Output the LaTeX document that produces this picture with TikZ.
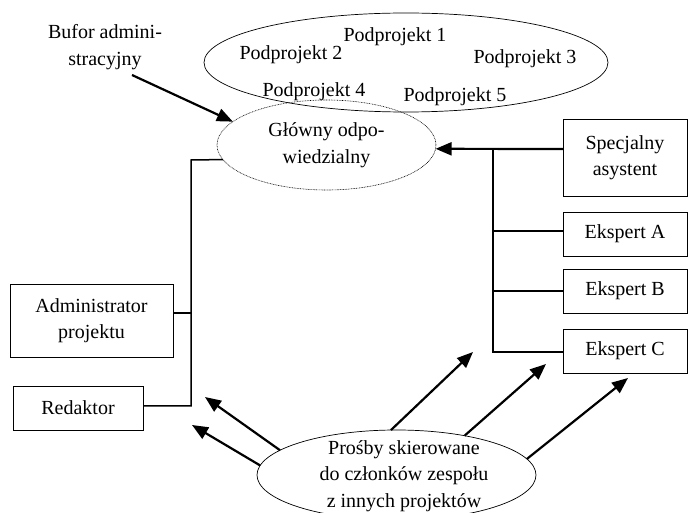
\documentclass[tikz,border=0pt]{standalone}
\usepackage{fontspec}
\setmainfont{Liberation Serif}
\usetikzlibrary{arrows.meta,shapes.geometric}

\begin{document}
\begin{tikzpicture}[x=1pt,y=-1pt,
  font=\fontsize{20}{26.5}\selectfont,
  every node/.style={inner sep=0pt,outer sep=0pt},
  txt/.style={align=center},
  box/.style={draw,line width=0.8pt,rectangle,align=center},
  oval/.style={draw,line width=0.7pt,ellipse},
  dotoval/.style={draw,line width=0.6pt,ellipse,dash pattern=on 0.8pt off 0.8pt,align=center},
  tree/.style={line width=1.5pt},
  bigarrow/.style={line width=2.2pt,-{Triangle[length=16pt,width=13pt]}}]

  \useasboundingbox (0,0) rectangle (689,513);

  % project cloud with its sub-projects
  \node[oval,minimum width=404pt,minimum height=99pt] (proj) at (406,62.5) {};
  \node[txt] (p1) at (395,37) {Podprojekt 1};
  \node[txt] (p2) at (291,55) {Podprojekt 2};
  \node[txt] (p3) at (525,59) {Podprojekt 3};
  \node[txt] (p4) at (314,92) {Podprojekt 4};
  \node[txt] (p5) at (455,97) {Podprojekt 5};

  % lead person
  \node[dotoval,minimum width=219pt,minimum height=90pt] (glowny) at (326.5,145) {G\l{}\'owny odpo-\\wiedzialny};

  % administrative buffer
  \node[txt] (bufor) at (105,47) {Bufor admini-\\stracyjny};
  \coordinate (bt) at (132,75);
  \draw[bigarrow] (bt) -- (glowny.166);

  % left-hand staff
  \node[box,minimum width=163pt,minimum height=73pt] (admin) at (91.5,320.5) {Administrator\\projektu};
  \node[box,minimum width=130pt,minimum height=44pt] (redaktor) at (78,408) {Redaktor};

  \coordinate (ltop) at (191,160);
  \coordinate (ladm) at (191,313);
  \coordinate (lbot) at (191,406);
  \draw[tree] (glowny.188) -- (ltop) -- (lbot) -- (lbot -| redaktor.east);
  \draw[tree] (ladm) -- (ladm -| admin.east);

  % right-hand specialists
  \node[box,minimum width=124pt,minimum height=77pt] (spec) at (625,157.5) {Specjalny\\asystent};
  \node[box,minimum width=124pt,minimum height=44pt] (eka) at (625,234) {Ekspert A};
  \node[box,minimum width=124pt,minimum height=44pt] (ekb) at (625,291) {Ekspert B};
  \node[box,minimum width=124pt,minimum height=44pt] (ekc) at (625,351) {Ekspert C};

  \coordinate (rtop) at (493,149);
  \coordinate (ra) at (493,231);
  \coordinate (rb) at (493,291);
  \coordinate (rbot) at (493,352);
  \draw[bigarrow] (rtop -| spec.west) -- (glowny.-2);
  \draw[tree] (rtop) -- (rbot) -- (rbot -| ekc.west);
  \draw[tree] (ra) -- (ra -| eka.west);
  \draw[tree] (rb) -- (rb -| ekb.west);

  % requests from other projects
  \node[oval,minimum width=279pt,minimum height=90pt] (prosby) at (396.5,475) {};
  \node[txt] (prosbytxt) at (404,476) {Pro\'sby skierowane\\do cz\l{}onk\'ow zespo\l{}u\\z innych projekt\'ow};

  \coordinate (t1) at (205,397);
  \coordinate (t2) at (192,425);
  \coordinate (t3) at (473,352);
  \coordinate (t4) at (546,364);
  \coordinate (t5) at (628,378);
  \draw[bigarrow] (prosby.168.3) -- (t1);
  \draw[bigarrow] (prosby.176.7) -- (t2);
  \draw[bigarrow] (prosby.97.9) -- (t3);
  \draw[bigarrow] (prosby.30.3) -- (t4);
  \draw[bigarrow] (prosby.7.4) -- (t5);
\end{tikzpicture}
\end{document}
